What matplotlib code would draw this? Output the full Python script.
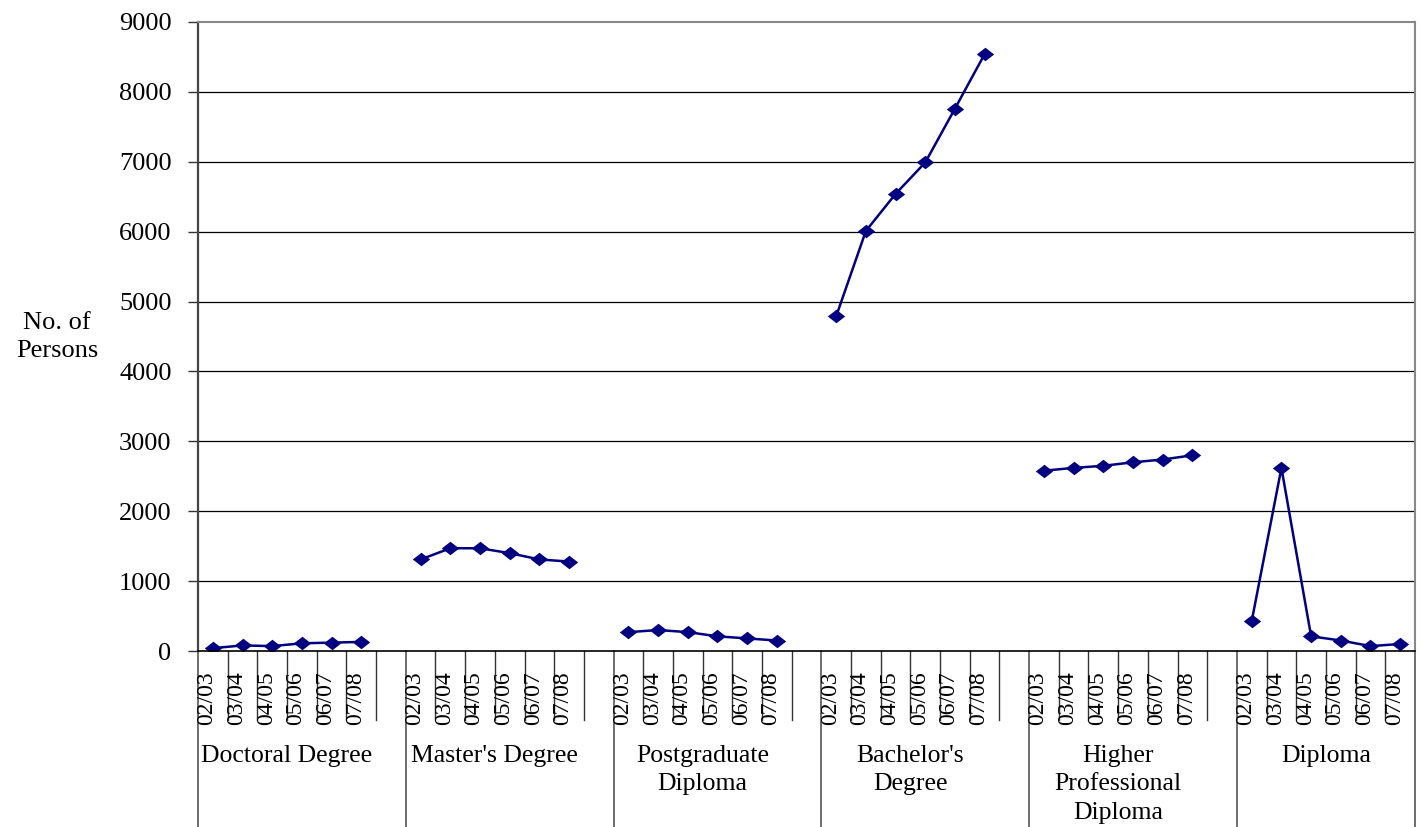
import numpy as np
import matplotlib.pyplot as plt

plt.rcParams['font.family'] = ['Liberation Serif', 'DejaVu Serif']

# Datos
years = ['02/03', '03/04', '04/05', '05/06', '06/07', '07/08']
groups = ['Doctoral Degree', "Master's Degree", 'Postgraduate\nDiploma',
          "Bachelor's\nDegree", 'Higher\nProfessional\nDiploma', 'Diploma']
doctoral = [40, 80, 70, 110, 120, 130]
masters = [1310, 1470, 1470, 1400, 1310, 1280]
postgrad = [270, 300, 270, 210, 180, 150]
bachelor = [4790, 6010, 6540, 6990, 7760, 8540]
higher_prof = [2580, 2620, 2650, 2700, 2740, 2800]
diploma = [430, 2620, 210, 150, 70, 100]

series = [doctoral, masters, postgrad, bachelor, higher_prof, diploma]

# cada grupo ocupa 7 categorias (6 años + 1 vacia), la ultima sin vacia
slot = len(years) + 1
n_cat = slot * len(groups) - 1
y_values = np.full(n_cat, np.nan)
for i, s in enumerate(series):
    y_values[i*slot:i*slot + len(years)] = s
x_values = np.arange(n_cat)

fig = plt.figure(figsize=(14.21, 8.27), dpi=100)
ax = fig.add_axes([198/1421, 1 - 651/827, 1217/1421, 629/827])

diamond = [(-1, 0), (0, 0.78), (1, 0), (0, -0.78), (-1, 0)]
ax.plot(x_values, y_values, color='#000080', linewidth=1.8,
        marker=diamond, markersize=12.5, markeredgewidth=0)

ax.set_xlim(-0.5, n_cat - 0.5)
ax.set_ylim(0, 9000)
ax.set_yticks(np.arange(0, 9001, 1000))
ax.set_yticklabels([str(v) for v in range(0, 9001, 1000)], fontsize=19)
ax.tick_params(axis='y', length=7, width=1, pad=12, color='#333333')
ax.set_xticks([])
for v in range(1000, 9000, 1000):
    ax.axhline(v, color='black', linewidth=0.9, zorder=0)

ax.spines['top'].set_color('#888888')
ax.spines['right'].set_color('#888888')
ax.spines['top'].set_linewidth(1.5)
ax.spines['right'].set_linewidth(1.5)
ax.spines['left'].set_color('#444444')
ax.spines['left'].set_linewidth(1.6)
ax.spines['bottom'].set_color('black')
ax.spines['bottom'].set_linewidth(1.2)

# eje de categorias en dos niveles
xt = ax.get_xaxis_transform()
px = 1 / 629  # un pixel en fraccion del eje
for k in range(n_cat + 1):
    b = k - 0.5
    if k % slot == 0 or k == n_cat:
        ax.plot([b, b], [0, -176*px], color='#555555', linewidth=1.2,
                transform=xt, clip_on=False)
    else:
        ax.plot([b, b], [0, -69*px], color='#333333', linewidth=1.0,
                transform=xt, clip_on=False)

for i in range(len(groups)):
    for j, yr in enumerate(years):
        ax.text(i*slot + j - 0.2, -20*px, yr, rotation=90, fontsize=17,
                ha='center', va='top', transform=xt)
    ax.text(i*slot + (slot - 2) / 2, -94*px, groups[i], fontsize=18.5,
            ha='center', va='top', linespacing=1.38, transform=xt)

fig.text(57/1421, 1 - 337/827, 'No. of\nPersons', fontsize=19,
         ha='center', va='center', linespacing=1.3)

fig.savefig('out.png', dpi=100)
